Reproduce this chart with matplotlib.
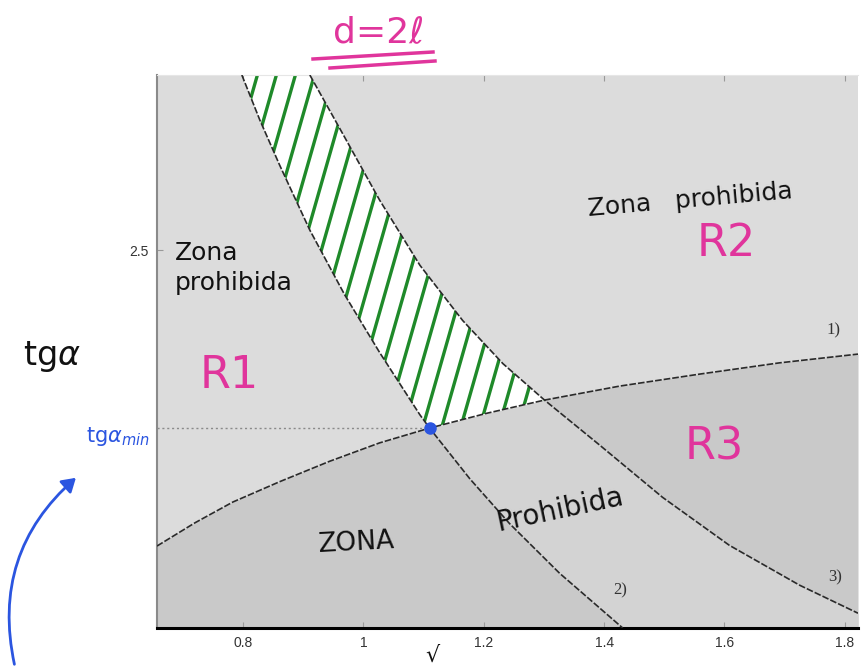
import numpy as np
import matplotlib
matplotlib.use("Agg")
import matplotlib.pyplot as plt
from matplotlib.collections import LineCollection
from matplotlib.lines import Line2D
from matplotlib.patches import FancyArrowPatch

# ---------------- data ----------------
x_ticks = [0.8, 1.0, 1.2, 1.4, 1.6, 1.8]
x_tick_labels = ["0.8", "1", "1.2", "1.4", "1.6", "1.8"]
y_ticks = [2.5]
y_tick_labels = ["2.5"]
x_lim = (0.657, 1.822)
y_lim = (2.0275, 2.719)

# curve 1) : increasing boundary
c1_x = [0.657, 0.720, 0.783, 0.861, 0.944, 1.027, 1.110, 1.205, 1.301, 1.426, 1.559, 1.691, 1.822]
c1_y = [2.130, 2.159, 2.185, 2.2105, 2.236, 2.259, 2.2775, 2.296, 2.3125, 2.330, 2.345, 2.359, 2.370]
# curve 2) : left decreasing boundary
c2_x = [0.798, 0.828, 0.861, 0.911, 0.969, 1.027, 1.094, 1.110, 1.177, 1.243, 1.326, 1.431]
c2_y = [2.719, 2.6625, 2.606, 2.525, 2.444, 2.372, 2.294, 2.2775, 2.214, 2.158, 2.096, 2.0275]
# curve 3) : right decreasing boundary
c3_x = [0.911, 0.969, 1.027, 1.094, 1.165, 1.232, 1.301, 1.393, 1.497, 1.608, 1.725, 1.822]
c3_y = [2.719, 2.641, 2.5625, 2.481, 2.412, 2.358, 2.3125, 2.256, 2.191, 2.131, 2.081, 2.046]

tgmin_x = 1.110
tgmin_y = 2.2775

curve_labels = ["1)", "2)", "3)"]

# ---------------- figure ----------------
W, H = 866, 667
fig = plt.figure(figsize=(W / 100, H / 100), dpi=100)
ax = fig.add_axes([157 / W, 1 - 628 / H, (858 - 157) / W, (628 - 75) / H])
ax.set_xlim(*x_lim)
ax.set_ylim(*y_lim)
ax.set_facecolor("#dcdcdc")

ymin, ymax = y_lim
xg = np.linspace(x_lim[0], x_lim[1], 1500)
f1 = np.interp(xg, c1_x, c1_y)
f2 = np.clip(np.interp(xg, c2_x, c2_y, left=np.inf, right=-np.inf), ymin, ymax)
f3 = np.clip(np.interp(xg, c3_x, c3_y, left=np.inf, right=-np.inf), ymin, ymax)

# below curve 1 (darker)
ax.fill_between(xg, ymin, f1, color="#c9c9c9", lw=0, zorder=1)
# between 2 and 3 below curve 1
low_m = f2
up_m = np.minimum(f3, f1)
ax.fill_between(xg, low_m, up_m, where=up_m > low_m, color="#d3d3d3", lw=0, zorder=1.1)
# white admissible band
low_b = np.maximum(f2, f1)
up_b = f3
band = ax.fill_between(xg, low_b, up_b, where=up_b > low_b, color="white", lw=0, zorder=1.2)

# green hand-drawn hatch strokes clipped to the white band
offs = np.arange(-0.5, 1.2, 19 / 701)
run = (553 / 3.5) / 701
segs = [[(o, -0.05), (o + run * 1.1, 1.05)] for o in offs]
lc = LineCollection(segs, colors="#1f8a2a", linewidths=2.4, transform=ax.transAxes,
                    zorder=1.5, capstyle="round")
ax.add_collection(lc)
lc.set_clip_path(band.get_paths()[0], band.get_transform())

# curves
for cx, cy in [(c1_x, c1_y), (c2_x, c2_y), (c3_x, c3_y)]:
    ax.plot(cx, cy, color="#2a2a2a", lw=1.2, ls=(0, (4, 1.2)), zorder=3)

# tg alpha min dotted line and dot
ax.plot([x_lim[0], tgmin_x], [tgmin_y, tgmin_y], color="#8a8a8a", lw=1, ls=(0, (1.5, 2)), zorder=3)
ax.plot([tgmin_x], [tgmin_y], "o", color="#2b55e0", ms=8, zorder=4)

# axes styling
ax.set_xticks(x_ticks)
ax.set_xticklabels(x_tick_labels)
ax.set_yticks(y_ticks)
ax.set_yticklabels(y_tick_labels)
ax.tick_params(direction="in", length=4, color="#999999", labelsize=10, labelcolor="#333333",
               top=True, right=False, pad=6)
for lab in ax.get_xticklabels() + ax.get_yticklabels():
    lab.set_family("Liberation Sans")
ax.spines["left"].set_color("#8a8a8a")
ax.spines["left"].set_linewidth(1.5)
ax.spines["bottom"].set_color("black")
ax.spines["bottom"].set_linewidth(2.2)
ax.spines["top"].set_color("#e6e6e6")
ax.spines["right"].set_visible(False)

# curve labels
lab_font = dict(family="Liberation Serif", fontsize=12, color="#333333")
fig.text(833 / W, 1 - 330 / H, curve_labels[0], ha="center", va="center", **lab_font)
fig.text(620 / W, 1 - 590 / H, curve_labels[1], ha="center", va="center", **lab_font)
fig.text(835 / W, 1 - 577 / H, curve_labels[2], ha="center", va="center", **lab_font)

# handwritten-style annotations
mag = "#e0359c"
blk = "#111111"
blue = "#2b55e0"
fig.text(379 / W, 1 - 32 / H, "d=2ℓ", color=mag, fontsize=26, ha="center", va="center")
fig.add_artist(Line2D([313 / W, 433 / W], [1 - 59 / H, 1 - 52 / H], color=mag, lw=2.5))
fig.add_artist(Line2D([330 / W, 435 / W], [1 - 68 / H, 1 - 61 / H], color=mag, lw=2.5))

fig.text(175 / W, 1 - 268 / H, "Zona\nprohibida", color=blk, fontsize=18, ha="left", va="center",
         linespacing=1.3)
fig.text(229 / W, 1 - 376 / H, "R1", color=mag, fontsize=32, ha="center", va="center")
fig.text(690 / W, 1 - 200 / H, "Zona   prohibida", color=blk, fontsize=18, ha="center", va="center",
         rotation=5)
fig.text(726 / W, 1 - 243 / H, "R2", color=mag, fontsize=32, ha="center", va="center")
fig.text(714 / W, 1 - 447 / H, "R3", color=mag, fontsize=32, ha="center", va="center")
fig.text(357 / W, 1 - 543 / H, "ZONA", color=blk, fontsize=19, ha="center", va="center", rotation=3)
fig.text(560 / W, 1 - 510 / H, "Prohibida", color=blk, fontsize=20, ha="center", va="center",
         rotation=12)
fig.text(52 / W, 1 - 357 / H, r"tg$\alpha$", color=blk, fontsize=24, ha="center", va="center")
fig.text(118 / W, 1 - 436 / H, r"tg$\alpha_{min}$", color=blue, fontsize=15, ha="center", va="center")
fig.text(432 / W, 1 - 666 / H, "√", color=blk, fontsize=16, ha="center", va="bottom")

fig.add_artist(FancyArrowPatch(
    (15 / W, 1 - 667 / H), (78 / W, 1 - 476 / H), transform=fig.transFigure,
    connectionstyle="arc3,rad=-0.3", arrowstyle="-|>,head_length=8,head_width=5",
    color=blue, lw=2))

fig.savefig("out.png", dpi=100, facecolor="white")
